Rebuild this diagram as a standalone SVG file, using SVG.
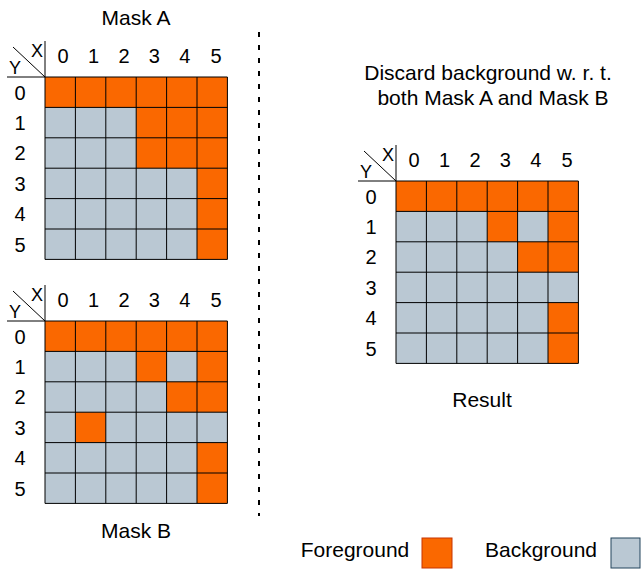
<svg xmlns="http://www.w3.org/2000/svg" width="641" height="570" viewBox="0 0 641 570">
<style>
text{font-family:"Liberation Sans",Arial,sans-serif;fill:#000;}
.t{font-size:21px;text-anchor:middle;}
.d{font-size:20px;text-anchor:middle;}
.xy{font-size:18px;text-anchor:middle;}
.bg{fill:#BAC8D3;}
.fg{fill:#FA6800;}
.gl{fill:none;stroke:#000;stroke-width:1;}
</style>
<defs>
<path id="lines" class="gl" d="M0,0V182.4M30.4,0V182.4M60.8,0V182.4M91.2,0V182.4M121.6,0V182.4M152,0V182.4M182.4,0V182.4M0,0H182.4M0,30.4H182.4M0,60.8H182.4M0,91.2H182.4M0,121.6H182.4M0,152H182.4M0,182.4H182.4"/>
<g id="hdr">
<path class="gl" d="M-38,0H0M0,-36V0M-32,-30L0,0"/>
<text class="xy" x="-8" y="-20">X</text>
<text class="xy" x="-30" y="-3">Y</text>
<text class="d" x="18" y="-14">0</text>
<text class="d" x="48.6" y="-14">1</text>
<text class="d" x="79" y="-14">2</text>
<text class="d" x="109.4" y="-14">3</text>
<text class="d" x="139.8" y="-14">4</text>
<text class="d" x="171" y="-14">5</text>
<text class="d" x="-25" y="22.5">0</text>
<text class="d" x="-25" y="52.9">1</text>
<text class="d" x="-25" y="83.3">2</text>
<text class="d" x="-25" y="113.7">3</text>
<text class="d" x="-25" y="144.1">4</text>
<text class="d" x="-25" y="174.5">5</text>
</g>
</defs>

<g id="maskA" transform="translate(45,77)">
<text class="t" x="91" y="-52">Mask A</text>
<use href="#hdr"/>
<rect class="bg" width="182.4" height="182.4"/>
<rect class="fg" width="182.4" height="30.4"/>
<rect class="fg" x="91.2" y="30.4" width="91.2" height="60.8"/>
<rect class="fg" x="152" y="91.2" width="30.4" height="91.2"/>
<use href="#lines"/>
</g>

<g id="maskB" transform="translate(45,321)">
<use href="#hdr"/>
<rect class="bg" width="182.4" height="182.4"/>
<rect class="fg" width="182.4" height="30.4"/>
<rect class="fg" x="91.2" y="30.4" width="30.4" height="30.4"/>
<rect class="fg" x="152" y="30.4" width="30.4" height="60.8"/>
<rect class="fg" x="121.6" y="60.8" width="30.4" height="30.4"/>
<rect class="fg" x="30.4" y="91.2" width="30.4" height="30.4"/>
<rect class="fg" x="152" y="121.6" width="30.4" height="60.8"/>
<use href="#lines"/>
<text class="t" x="91" y="217">Mask B</text>
</g>

<g id="result" transform="translate(396,181)">
<use href="#hdr"/>
<rect class="bg" width="182.4" height="182.4"/>
<rect class="fg" width="182.4" height="30.4"/>
<rect class="fg" x="91.2" y="30.4" width="30.4" height="30.4"/>
<rect class="fg" x="152" y="30.4" width="30.4" height="60.8"/>
<rect class="fg" x="121.6" y="60.8" width="30.4" height="30.4"/>
<rect class="fg" x="152" y="121.6" width="30.4" height="60.8"/>
<use href="#lines"/>
<text class="t" x="86" y="226">Result</text>
</g>

<g id="caption">
<text class="t" x="488" y="80">Discard background w. r. t.</text>
<text class="t" x="493" y="105">both Mask A and Mask B</text>
</g>

<g id="connectors">
<line x1="259" y1="32" x2="259" y2="516" stroke="#000" stroke-width="2" stroke-dasharray="5 8"/>
</g>

<g id="legend">
<text class="t" x="355" y="557">Foreground</text>
<rect x="422" y="538" width="30" height="30" fill="#FA6800" stroke="#C73500" stroke-width="1"/>
<text class="t" x="541" y="557">Background</text>
<rect x="611" y="538" width="29" height="30" fill="#BAC8D3" stroke="#23445D" stroke-width="1"/>
</g>
</svg>
